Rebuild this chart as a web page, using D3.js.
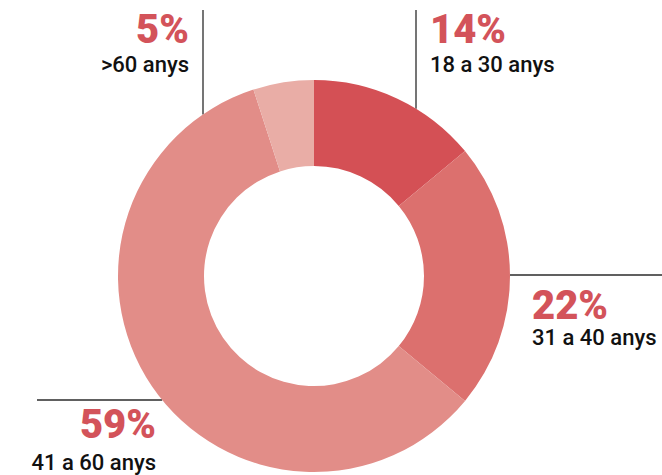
<!DOCTYPE html>
<html>
<head>
<meta charset="utf-8">
<script src="https://cdn.jsdelivr.net/npm/d3@7"></script>
<style>
  html, body { margin: 0; padding: 0; background: #fff; }
  svg { display: block; }
</style>
</head>
<body>
<script>
// data
let groups = ["18 a 30 anys", "31 a 40 anys", "41 a 60 anys", ">60 anys"];
let shares = [14, 22, 59, 5];
let colors = ["#d45055", "#dc706e", "#e28d88", "#e9ada6"];

let width = 662,
    height = 475,
    cx = 314,
    cy = 276,
    outerR = 196,
    innerR = 110;

let svg = d3.select("body").append("svg")
    .attr("width", width)
    .attr("height", height);

let pie = d3.pie().sort(null).value(d => d);
let arc = d3.arc().innerRadius(innerR).outerRadius(outerR);
let arcs = pie(shares);

// leader lines + label placement (layout only)
// kind: "v" vertical line at x going up, "h" horizontal line at y
let labelLayout = [
  {kind: "v", pos: 416, end: 10, tx: 430, ty: 43, anchor: "start", sub: 29},
  {kind: "h", pos: 275, end: 662, tx: 532, ty: 319, anchor: "start", sub: 26},
  {kind: "h", pos: 400, end: 37, tx: 156, ty: 438, anchor: "end", sub: 32},
  {kind: "v", pos: 203, end: 10, tx: 189, ty: 43, anchor: "end", sub: 29}
];

let lines = svg.append("g");
labelLayout.forEach((l, i) => {
  let x1, y1, x2, y2;
  if (l.kind === "v") {
    let dx = l.pos - cx;
    x1 = x2 = l.pos;
    y1 = cy - Math.sqrt(outerR * outerR - dx * dx);
    y2 = l.end;
  } else {
    let dy = l.pos - cy;
    let side = l.end > cx ? 1 : -1;
    y1 = y2 = l.pos;
    x1 = cx + side * Math.sqrt(outerR * outerR - dy * dy);
    x2 = l.end;
  }
  lines.append("line")
    .attr("x1", x1).attr("y1", y1)
    .attr("x2", x2).attr("y2", y2)
    .attr("stroke", "#2b2b2b")
    .attr("stroke-width", 1.3);
});

svg.append("g")
  .attr("transform", `translate(${cx},${cy})`)
  .selectAll("path")
  .data(arcs)
  .enter()
  .append("path")
  .attr("d", arc)
  .attr("fill", (d, i) => colors[i]);

let labels = svg.append("g")
  .style("font-family", "Roboto, 'DejaVu Sans', sans-serif");

labelLayout.forEach((l, i) => {
  labels.append("text")
    .attr("x", l.tx)
    .attr("y", l.ty)
    .attr("text-anchor", l.anchor)
    .attr("fill", "#d3535a")
    .attr("font-size", 40)
    .attr("font-weight", 900)
    .text(shares[i] + "%");
  labels.append("text")
    .attr("x", l.tx)
    .attr("y", l.ty + l.sub)
    .attr("text-anchor", l.anchor)
    .attr("fill", "#111")
    .attr("font-size", 22)
    .attr("font-weight", 500)
    .text(groups[i]);
});
</script>
</body>
</html>
